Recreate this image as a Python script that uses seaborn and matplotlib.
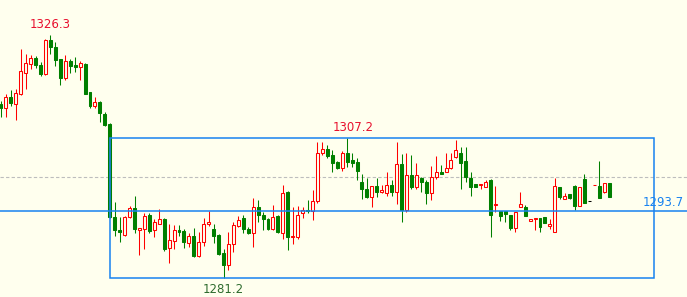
import numpy as np
import pandas as pd
import matplotlib
matplotlib.use("Agg")
import matplotlib.pyplot as plt
import seaborn as sns

# ---------------- data ----------------
opens = [1313.6, 1312.8, 1314.8, 1313.6, 1315.3, 1319.3, 1320.9, 1322.1, 1320.8, 1319.1,
         1325.4, 1324.1, 1321.9, 1318.3, 1321.5, 1320.8, 1320.5, 1321.0, 1315.8, 1313.2,
         1313.9, 1311.7, 1309.8, 1292.6, 1290.1, 1289.1, 1292.6, 1294.2, 1290.1, 1290.3,
         1292.9, 1290.0, 1291.3, 1292.1, 1286.7, 1288.1, 1290.1, 1289.9, 1287.7, 1289.0,
         1285.3, 1287.8, 1291.3, 1290.3, 1289.2, 1285.9, 1283.5, 1287.5, 1290.8, 1292.3,
         1290.3, 1289.5, 1294.3, 1292.8, 1292.1, 1290.3, 1292.7, 1289.6, 1297.2, 1288.8,
         1288.8, 1293.2, 1293.8, 1293.6, 1295.5, 1304.5, 1305.2, 1304.0, 1302.8, 1301.6,
         1304.4, 1303.1, 1302.7, 1299.0, 1297.8, 1296.3, 1298.3, 1297.2, 1297.0, 1298.5,
         1297.2, 1302.4, 1293.8, 1300.3, 1298.0, 1299.8, 1299.1, 1296.9, 1299.9, 1300.9,
         1300.9, 1301.6, 1303.7, 1304.4, 1302.9, 1299.7, 1298.6, 1298.5, 1298.0, 1299.4,
         1294.8, 1293.7, 1293.7, 1292.9, 1290.4, 1294.4, 1294.4, 1291.8, 1292.1, 1292.3,
         1292.5, 1290.9, 1289.8, 1298.1, 1295.9, 1296.7, 1298.3, 1294.6, 1299.5, 1295.5,
         1298.4, 1298.3, 1297.2, 1298.8]
highs = [1314.0, 1315.3, 1316.1, 1316.4, 1323.8, 1322.8, 1322.6, 1322.5, 1321.3, 1325.6,
         1326.3, 1325.0, 1321.9, 1322.6, 1321.9, 1322.2, 1321.5, 1321.2, 1315.8, 1314.8,
         1314.1, 1312.0, 1309.9, 1295.3, 1292.5, 1292.7, 1294.6, 1296.5, 1290.4, 1293.2,
         1293.2, 1292.1, 1294.0, 1292.3, 1291.2, 1291.1, 1291.0, 1290.2, 1289.5, 1290.5,
         1289.7, 1292.4, 1293.6, 1291.3, 1289.3, 1286.5, 1289.8, 1291.6, 1292.7, 1292.8,
         1290.6, 1296.0, 1295.7, 1293.4, 1292.3, 1294.7, 1292.9, 1298.5, 1297.4, 1294.3,
         1294.6, 1294.4, 1295.7, 1297.5, 1306.4, 1306.5, 1305.9, 1305.0, 1303.0, 1304.7,
         1307.2, 1304.5, 1303.4, 1300.5, 1299.7, 1298.3, 1299.7, 1298.5, 1300.8, 1299.4,
         1306.4, 1304.2, 1304.4, 1304.0, 1302.6, 1300.0, 1299.3, 1302.0, 1303.9, 1302.2,
         1304.5, 1304.5, 1306.8, 1305.5, 1305.5, 1300.8, 1298.6, 1298.6, 1299.3, 1299.5,
         1298.3, 1293.7, 1293.7, 1292.9, 1293.4, 1297.2, 1294.7, 1292.1, 1292.3, 1292.3,
         1292.5, 1292.1, 1299.8, 1298.1, 1296.9, 1296.7, 1298.5, 1298.0, 1300.5, 1295.5,
         1298.5, 1302.9, 1298.8, 1298.8]
lows = [1311.2, 1311.2, 1313.2, 1310.6, 1315.2, 1316.3, 1320.0, 1320.3, 1318.7, 1319.0,
        1322.8, 1320.6, 1317.1, 1317.9, 1319.3, 1319.4, 1318.0, 1315.3, 1312.8, 1312.7,
        1310.2, 1309.5, 1292.3, 1289.0, 1287.9, 1289.0, 1292.4, 1289.5, 1285.4, 1286.6,
        1289.6, 1288.8, 1291.3, 1286.2, 1283.9, 1286.6, 1289.0, 1286.8, 1287.0, 1285.0,
        1285.0, 1287.2, 1290.9, 1287.7, 1285.4, 1281.2, 1282.7, 1286.0, 1290.7, 1289.6,
        1289.3, 1287.0, 1291.6, 1290.0, 1290.1, 1290.0, 1289.5, 1288.4, 1286.4, 1287.5,
        1288.5, 1292.3, 1293.2, 1292.0, 1295.1, 1304.0, 1303.4, 1300.9, 1301.4, 1301.1,
        1301.9, 1301.8, 1299.3, 1295.9, 1296.0, 1294.4, 1296.3, 1296.9, 1296.5, 1296.5,
        1294.9, 1291.6, 1293.5, 1297.7, 1297.7, 1297.1, 1294.9, 1295.7, 1299.5, 1300.6,
        1300.8, 1301.4, 1303.4, 1297.8, 1299.0, 1296.5, 1298.1, 1297.8, 1298.0, 1288.7,
        1293.5, 1291.8, 1291.5, 1290.1, 1289.8, 1294.4, 1292.7, 1291.8, 1290.1, 1289.8,
        1291.4, 1290.3, 1289.8, 1295.8, 1295.9, 1295.8, 1293.8, 1294.6, 1295.2, 1295.5,
        1298.4, 1296.1, 1296.9, 1296.3]
closes = [1312.8, 1314.8, 1313.8, 1315.5, 1319.7, 1321.1, 1322.0, 1320.7, 1319.1, 1325.4,
          1324.1, 1321.8, 1318.4, 1321.5, 1320.6, 1320.5, 1321.1, 1315.4, 1313.2, 1313.9,
          1311.8, 1309.7, 1292.5, 1290.0, 1289.8, 1292.5, 1294.1, 1290.3, 1290.4, 1292.7,
          1289.9, 1291.5, 1292.1, 1286.6, 1288.2, 1290.1, 1289.8, 1287.9, 1289.0, 1285.3,
          1287.9, 1291.3, 1291.5, 1289.0, 1285.6, 1283.5, 1287.4, 1291.0, 1292.0, 1290.2,
          1289.6, 1294.3, 1292.8, 1292.1, 1290.3, 1292.5, 1289.8, 1296.9, 1288.8, 1289.0,
          1292.9, 1293.8, 1293.6, 1295.5, 1304.5, 1305.2, 1303.9, 1302.6, 1301.6, 1304.4,
          1302.8, 1302.6, 1301.1, 1297.7, 1296.3, 1298.3, 1297.2, 1297.5, 1298.5, 1297.2,
          1302.4, 1293.8, 1300.3, 1298.1, 1300.3, 1299.0, 1297.0, 1299.9, 1300.9, 1300.6,
          1301.6, 1303.1, 1305.0, 1302.5, 1299.9, 1298.0, 1298.1, 1298.6, 1299.1, 1292.9,
          1294.9, 1292.7, 1293.1, 1290.4, 1293.4, 1294.9, 1292.7, 1292.1, 1292.3, 1290.6,
          1291.4, 1291.3, 1298.3, 1296.2, 1296.4, 1296.1, 1294.6, 1298.0, 1295.2, 1295.5,
          1298.5, 1296.1, 1298.8, 1296.3]

box_top = 1307.2
box_bottom = 1281.2
level = 1293.7
bid_line = 1299.9
box_start = 22        # bar index where the rectangle starts
box_end = 132         # bar index where the rectangle ends (future bars)

# ---------------- style ----------------
BG = "#FFFFEE"
UP = "#FF0000"
DOWN = "#007F00"
BLUE = "#1882F0"

sns.set_theme(style="white", rc={"axes.facecolor": BG, "figure.facecolor": BG})
plt.rcParams["font.family"] = ["DejaVu Sans"]

df = pd.DataFrame({"open": opens, "high": highs, "low": lows, "close": closes})
df["idx"] = np.arange(len(df))
df["dir"] = np.sign(df["close"] - df["open"])

fig = plt.figure(figsize=(6.87, 2.97), dpi=100)
ax = fig.add_axes([0, 0, 1, 1])
ax.set_facecolor(BG)

def col(d):
    return UP if d > 0 else (DOWN if d < 0 else "black")

colors = [col(d) for d in df["dir"]]

# reference lines and rectangle
ax.axhline(bid_line, color="#BDBDBD", lw=0.8, ls=(0, (3, 2)), zorder=0)
ax.axhline(level, color=BLUE, lw=1.1, zorder=3)
ax.add_patch(plt.Rectangle((box_start, box_bottom), box_end - box_start, box_top - box_bottom,
                           fill=False, edgecolor=BLUE, lw=1.1, zorder=3))

# wicks
ax.vlines(df["idx"], df["low"], df["high"], colors=colors, lw=0.75, zorder=1)

# bodies
body_w = 0.6
bottoms = np.minimum(df["open"], df["close"])
heights = np.abs(df["close"] - df["open"])
faces = [BG if d > 0 else c for d, c in zip(df["dir"], colors)]
ax.bar(df["idx"], heights, bottom=bottoms, width=body_w, color=faces,
       edgecolor=colors, linewidth=0.75, zorder=2)

# labels
imax = int(df["high"].idxmax())
ax.annotate(f"{df['high'].max():.1f}", (imax, df["high"].max()), xytext=(0, 3),
            textcoords="offset points", ha="center", va="bottom", color="#E8102E", fontsize=8.5)
inbox = df.iloc[box_start + 1:]
ibox = int(inbox["high"].idxmax())
ax.annotate(f"{box_top:.1f}", (ibox, box_top), xytext=(4, 3),
            textcoords="offset points", ha="center", va="bottom", color="#E8102E", fontsize=8.5)
imin = int(df["low"].idxmin())
ax.annotate(f"{df['low'].min():.1f}", (imin, df["low"].min()), xytext=(0, -4),
            textcoords="offset points", ha="center", va="top", color="#2E6B2E", fontsize=8.5)
ax.annotate(f"{level:.1f}", (1, level), xycoords=("axes fraction", "data"), xytext=(-2, 1.5),
            textcoords="offset points", ha="right", va="bottom", color=BLUE, fontsize=8.5)

ax.set_xlim(-0.2, 138.73)
ax.set_ylim(1277.63, 1332.87)
ax.set_axis_off()

fig.savefig("out.png", dpi=100, facecolor=BG)
